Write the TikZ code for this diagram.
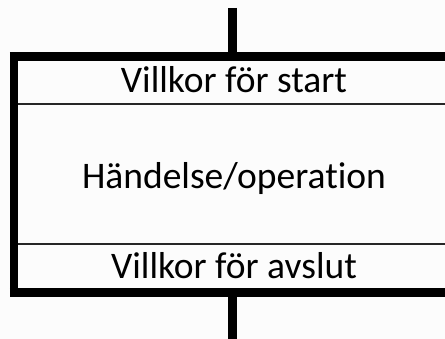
\documentclass[tikz,border=0pt]{standalone}
\usepackage{fontspec}
\setmainfont[Ligatures=NoCommon]{Carlito}
\begin{document}
\begin{tikzpicture}[x=1pt,y=-1pt,
  frame/.style={line width=8.5pt,line cap=butt},
  divider/.style={line width=2.2pt,draw=black!85},
  label/.style={font=\fontsize{37.5}{42}\selectfont,inner sep=0pt,anchor=base}]
  \useasboundingbox (0,0) rectangle (445,339);
  \fill[black!1] (0,0) rectangle (445,339);
  % box corners (right side runs past the page edge)
  \coordinate (tl) at (14,56.5);
  \coordinate (tr) at (460,56.5);
  \coordinate (bl) at (14,292.5);
  \coordinate (br) at (460,292.5);
  \coordinate (topmid) at (232.5,52);
  \coordinate (botmid) at (232.5,297);
  \coordinate (inflow) at (232.5,8);
  \coordinate (outflow) at (232.5,345);
  % row dividers
  \draw[divider] (14,104) -- (460,104);
  \draw[divider] (14,244) -- (460,244);
  % outer frame
  \draw[frame] (tr) -- (tl) -- (bl) -- (br);
  \draw[frame] (tl) ++(-4.25,0) -- (tl);
  \draw[frame] (bl) ++(-4.25,0) -- (bl);
  % flow lines
  \draw[frame] (inflow) -- (topmid);
  \draw[frame] (botmid) -- (outflow);
  % texts
  \node[label] (start) at (234,93) {Villkor för start};
  \node[label] (op) at (234,189) {Händelse/operation};
  \node[label] (end) at (234,279) {Villkor för avslut};
\end{tikzpicture}
\end{document}
